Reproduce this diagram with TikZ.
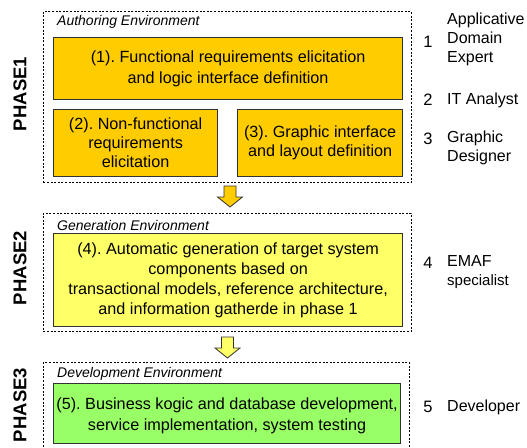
\documentclass[tikz,border=0pt]{standalone}
\usepackage{fontspec}
\setmainfont{Liberation Sans}
\frenchspacing
\definecolor{gold}{HTML}{FFCC00}
\definecolor{lightyellow}{HTML}{FFFF66}
\definecolor{lightgreen}{HTML}{99FF66}
\definecolor{edge}{HTML}{333333}
\begin{document}
\frenchspacing
\begin{tikzpicture}[x=1pt,y=-1pt]
\tikzset{
  env/.style={draw=black, dash pattern=on 2pt off 1.6pt, line width=0.8pt, anchor=north west, inner sep=0},
  task/.style={draw=edge, line width=1.2pt, align=center, anchor=north west, inner sep=0,
    font=\fontsize{16.2}{19}\selectfont},
  envlabel/.style={font=\fontsize{14}{16}\selectfont\itshape, anchor=west, inner sep=0},
  phase/.style={font=\fontsize{18.5}{22}\selectfont\bfseries, rotate=90},
  num/.style={font=\fontsize{16.5}{19}\selectfont, inner sep=0},
  role/.style={font=\fontsize{16}{19}\selectfont, anchor=west, align=left, inner sep=0},
  downarrow/.pic={\path[draw=edge, line width=0.8pt, pic actions]
     (-6,0) -- (6,0) -- (6,11) -- (12.5,11) -- (0,21) -- (-12.5,11) -- (-6,11) -- cycle;}
}
\useasboundingbox (0,0) rectangle (527,447);
\begin{scope}
\clip (0,0) rectangle (527,447);
% environments
\node[env, minimum width=368pt, minimum height=171pt] (env1) at (43,11) {};
\node[env, minimum width=368pt, minimum height=118pt] (env2) at (43,213) {};
\node[env, minimum width=366pt, minimum height=100pt] (env3) at (43,362) {};
% tasks
\node[task, fill=lightgreen, minimum width=347pt, minimum height=60pt,
      font=\fontsize{16.2}{21}\selectfont] (t5) at (53,383)
  {\rule{0pt}{17pt}(5). Business kogic and database development,\\service implementation, system testing};
\end{scope}
\node[envlabel] (l1) at (57,22) {Authoring Environment};
\node[envlabel] (l2) at (57,225) {Generation Environment};
\node[envlabel] (l3) at (57,374) {Development Environment};
\node[task, fill=gold, minimum width=349pt, minimum height=62pt,
      font=\fontsize{16.2}{21}\selectfont] (t1) at (53,37)
  {(1). Functional requirements elicitation\\and logic interface definition};
\node[task, fill=gold, minimum width=164pt, minimum height=67pt] (t2) at (53,109)
  {(2). Non-functional\\requirements\\elicitation};
\node[task, fill=gold, minimum width=165pt, minimum height=67pt] (t3) at (237,109)
  {(3). Graphic interface\\and layout definition};
\node[task, fill=lightyellow, minimum width=349pt, minimum height=93pt,
      font=\fontsize{16.2}{20}\selectfont] (t4) at (53,233)
  {(4). Automatic generation of target system\\components based on\\transactional models, reference architecture,\\and information gatherde in phase 1};
% arrows
\pic[fill=gold] at (230,186) {downarrow};
\pic[fill=lightyellow] at (227.5,337) {downarrow};
% phases
\node[phase] (p1) at (20,94) {PHASE1};
\node[phase] (p2) at (20,268) {PHASE2};
\node[phase] (p3) at (20,405) {PHASE3};
% roles
\node[num] (n1) at (428,42) {1};
\node[role] (r1) at (447,39) {Applicative\\Domain\\Expert};
\node[num] (n2) at (428,100) {2};
\node[role] (r2) at (447,100) {IT Analyst};
\node[num] (n3) at (428,139) {3};
\node[role] (r3) at (447,148) {Graphic\\Designer};
\node[num] (n4) at (428,263) {4};
\node[role] (r4) at (447,272) {EMAF\\{\fontsize{15}{19}\selectfont specialist}};
\node[num] (n5) at (428,407) {5};
\node[role] (r5) at (447,407) {Developer};
\end{tikzpicture}
\end{document}
